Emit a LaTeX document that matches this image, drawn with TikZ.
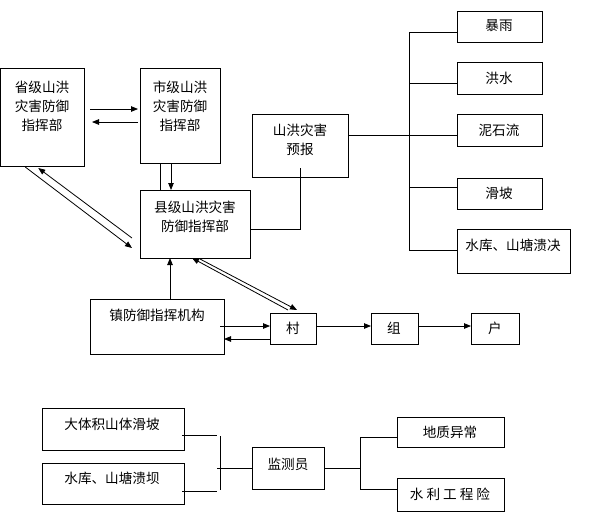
\documentclass[tikz,border=0pt]{standalone}
\usepackage{fontspec}
\setmainfont{Noto Sans CJK SC}
\usetikzlibrary{arrows.meta,calc}
\begin{document}
\begin{tikzpicture}[x=1pt,y=-1pt,line width=0.8pt,
  box/.style={draw,anchor=north west,inner sep=0pt,outer sep=0pt},
  lbl/.style={font=\fontsize{13.6}{19}\selectfont,align=center,inner sep=0pt},
  arr/.style={-{Triangle[length=7pt,width=5.5pt]}}]
\useasboundingbox (0,0) rectangle (589,531);
% boxes
\node[box,minimum width=83.5,minimum height=98] (sheng) at (0.5,68) {};
\node[box,minimum width=80,minimum height=95] (shi) at (140,68) {};
\node[box,minimum width=110,minimum height=68] (xian) at (140,190) {};
\node[box,minimum width=96,minimum height=63] (yubao) at (252,114) {};
\node[box,minimum width=85,minimum height=31] (baoyu) at (457,11) {};
\node[box,minimum width=85,minimum height=32] (hongshui) at (457,62) {};
\node[box,minimum width=85,minimum height=32] (nishiliu) at (457,114) {};
\node[box,minimum width=85,minimum height=31] (huapo) at (457,178) {};
\node[box,minimum width=113,minimum height=44] (shuiku) at (457,229) {};
\node[box,minimum width=134,minimum height=55] (zhen) at (90,299) {};
\node[box,minimum width=46,minimum height=31] (cun) at (270,313) {};
\node[box,minimum width=47,minimum height=31] (zu) at (371,313) {};
\node[box,minimum width=48,minimum height=31] (hu) at (471,313) {};
\node[box,minimum width=142,minimum height=42] (dati) at (42,408) {};
\node[box,minimum width=142,minimum height=41] (shuikuba) at (42,463) {};
\node[box,minimum width=72,minimum height=42] (jiance) at (252,447) {};
\node[box,minimum width=107,minimum height=30] (dizhi) at (397,417) {};
\node[box,minimum width=107,minimum height=33] (shuili) at (397,478) {};
% labels
\node[lbl] (tsheng) at (42,106) {省级山洪\\灾害防御\\指挥部};
\node[lbl] (tshi) at (180,106) {市级山洪\\灾害防御\\指挥部};
\node[lbl] (txian) at (195,217) {县级山洪灾害\\防御指挥部};
\node[lbl] (tyubao) at (300,140) {山洪灾害\\预报};
\node[lbl] (tbaoyu) at (499,26) {暴雨};
\node[lbl] (thongshui) at (499,78) {洪水};
\node[lbl] (tnishiliu) at (499,130) {泥石流};
\node[lbl] (thuapo) at (499,193) {滑坡};
\node[lbl] (tshuiku) at (513,245) {水库、山塘溃决};
\node[lbl] (tzhen) at (157,315) {镇防御指挥机构};
\node[lbl] (tcun) at (293,328) {村};
\node[lbl] (tzu) at (394,328) {组};
\node[lbl] (thu) at (495,328) {户};
\node[lbl] (tdati) at (112,424) {大体积山体滑坡};
\node[lbl] (tshuikuba) at (112,478) {水库、山塘溃坝};
\node[lbl] (tjiance) at (288,464) {监测员};
\node[lbl] (tdizhi) at (450,432) {地质异常};
\node[lbl] (tshuili) at (450,494) {水\ 利\ 工\ 程\ 险};
% connectors top
\draw[arr] ($(sheng.east)+(6,-8)$) -- ($(shi.west)+(-2,-6.5)$);
\draw[arr] ($(shi.west)+(-2,6.5)$) -- ($(sheng.east)+(8,5)$);
\draw ($(shi.south)+(-20,0)$) -- ($(xian.north)+(-35,0)$);
\draw[arr] ($(shi.south)+(-9,0)$) -- ($(xian.north)+(-24,0)$);
\draw[arr] ($(sheng.south)+(-17,1)$) -- ($(xian.west)+(-8,24)$);
\draw[arr] ($(xian.west)+(-8,14)$) -- ($(sheng.south)+(-4,2)$);
\draw ($(xian.east)+(0,5)$) -| ($(yubao.south)+(0,-9)$);
% forecast tree
\coordinate (ttop) at (409,32);
\coordinate (tbot) at (409,250);
\draw (ttop) -- (tbot);
\draw ($(yubao.east)+(0,-10.5)$) -- ($(nishiliu.west)+(-48,5)$);
\draw (ttop) -- ($(baoyu.west)+(0,5.5)$);
\draw ($(hongshui.west)+(-48,5)$) -- ($(hongshui.west)+(0,5)$);
\draw ($(nishiliu.west)+(-48,5)$) -- ($(nishiliu.west)+(0,5)$);
\draw ($(huapo.west)+(-48,-6)$) -- ($(huapo.west)+(0,-6)$);
\draw (tbot) -- ($(shuiku.west)+(0,-1)$);
% connectors middle
\draw[arr] ($(zhen.north)+(13,0)$) -- ($(xian.south)+(-25,0)$);
\draw[arr] ($(cun.north)+(-5,-3)$) -- ($(xian.south)+(-3,0)$);
\draw[arr] ($(xian.south)+(5,1)$) -- ($(cun.north)+(4,-3)$);
\draw[arr] ($(zhen.east)+(-4,-0.5)$) -- ($(cun.west)+(0,-2.5)$);
\draw[arr] ($(cun.west)+(0,10.5)$) -- ($(zhen.east)+(0,12.5)$);
\draw[arr] ($(cun.east)+(0,-2.5)$) -- ($(zu.west)+(0,-2.5)$);
\draw[arr] ($(zu.east)+(0,-2.5)$) -- ($(hu.west)+(0,-2.5)$);
% bottom section
\draw ($(dati.east)+(-2,6)$) -- ($(dati.east)+(33,6)$);
\draw ($(shuikuba.east)+(-2,7.5)$) -- ($(shuikuba.east)+(33,7.5)$);
\coordinate (lv1) at (220,436);
\coordinate (lv2) at (220,490);
\draw (lv1) -- (lv2);
\draw ($(jiance.west)+(-35,0)$) -- (jiance.west);
\coordinate (rv1) at (360,437);
\coordinate (rv2) at (360,489);
\draw (jiance.east) -- ($(jiance.east)+(36,0)$);
\draw (rv1) -- (rv2);
\draw (rv1) -- ($(dizhi.west)+(0,5)$);
\draw (rv2) -- ($(shuili.west)+(0,-5.5)$);
\end{tikzpicture}
\end{document}
